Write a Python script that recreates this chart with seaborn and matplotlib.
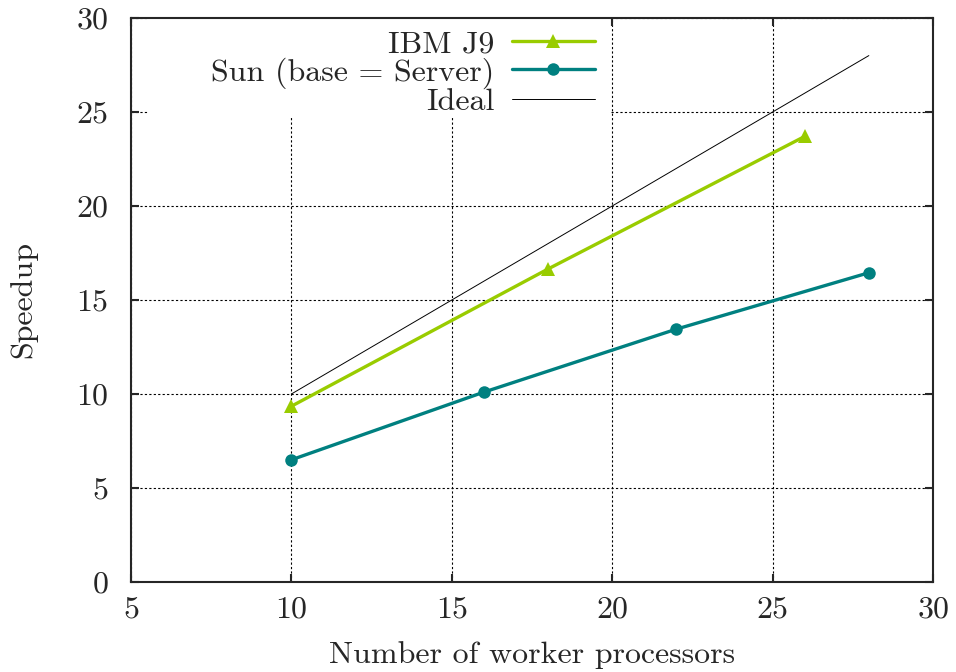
import pandas as pd
import matplotlib.pyplot as plt
import seaborn as sns
from matplotlib.patches import Rectangle

# data
ibm_x = [10, 18, 26]
ibm_y = [9.35, 16.65, 23.7]
sun_x = [10, 16, 22, 28]
sun_y = [6.5, 10.1, 13.45, 16.45]
ideal_x = [10, 28]
ideal_y = [10, 28]

labels = ['IBM J9', 'Sun (base = Server)', 'Ideal']

ibm = pd.DataFrame({'workers': ibm_x, 'speedup': ibm_y})
sun = pd.DataFrame({'workers': sun_x, 'speedup': sun_y})
ideal = pd.DataFrame({'workers': ideal_x, 'speedup': ideal_y})

sns.set_style('ticks')
plt.rcParams['font.family'] = ['cmr10', 'DejaVu Serif']
plt.rcParams['axes.formatter.use_mathtext'] = True
plt.rcParams['axes.unicode_minus'] = False

fig = plt.figure(figsize=(9.56, 6.72), dpi=100)
ax = fig.add_axes([131 / 956, 1 - 582 / 672, 802 / 956, 564 / 672])

# series
sns.lineplot(data=ibm, x='workers', y='speedup', color='#99cc00', marker='^',
             markersize=10, markeredgewidth=0, linewidth=2.4, ax=ax, zorder=3)
sns.lineplot(data=sun, x='workers', y='speedup', color='#008080', marker='o',
             markersize=9, markeredgewidth=0, linewidth=2.4, ax=ax, zorder=3)
sns.lineplot(data=ideal, x='workers', y='speedup', color='black',
             linewidth=0.7, ax=ax, zorder=3)

ax.set_xlim(5, 30)
ax.set_ylim(0, 30)
ax.set_xticks(range(5, 31, 5))
ax.set_yticks(range(0, 31, 5))
ax.tick_params(direction='in', top=True, right=True, length=6, width=1.5,
               labelsize=23)
ax.tick_params(axis='y', pad=16)
ax.tick_params(axis='x', pad=10)
for sp in ax.spines.values():
    sp.set_linewidth(1.5)
ax.grid(True, color='black', linestyle=(0, (2, 2)), linewidth=0.8)

ax.set_xlabel('Number of worker processors', fontsize=23, labelpad=13)
ax.set_ylabel('Speedup', fontsize=23, labelpad=28)

# white key box hiding the grid behind the legend
ax.add_patch(Rectangle((0.022, 0.824), 0.575, 0.176, transform=ax.transAxes,
                       facecolor='white', edgecolor='none', zorder=2.5))

leg = ax.legend(ax.get_lines()[:3], labels, loc='upper right',
                bbox_to_anchor=(0.5905, 0.996), markerfirst=False, fontsize=23,
                handlelength=2.6, handletextpad=0.55, labelspacing=-0.03,
                frameon=False, borderaxespad=0.1, borderpad=0.2)
leg.set_zorder(5)

fig.savefig('out.png', dpi=100)
